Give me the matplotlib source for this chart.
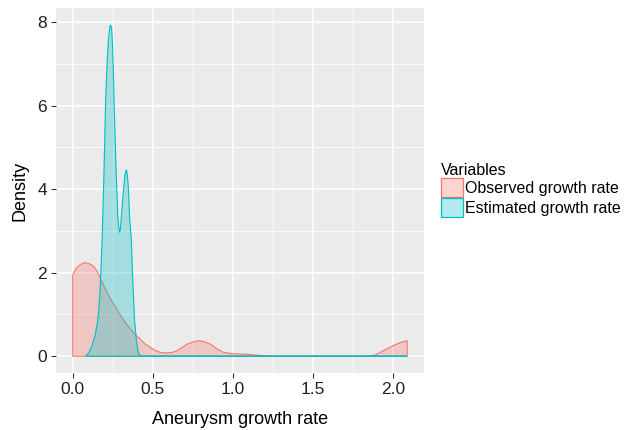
import matplotlib
matplotlib.use("Agg")
import matplotlib.pyplot as plt
from matplotlib.patches import Patch
from matplotlib.ticker import MultipleLocator

plt.rcParams['font.family'] = ['Liberation Sans', 'DejaVu Sans']

# density curves
obs_x = [0.0, 0.02, 0.05, 0.075, 0.10, 0.13, 0.155, 0.175, 0.205, 0.237, 0.27, 0.30, 0.33,
         0.36, 0.39, 0.42, 0.45, 0.486, 0.52, 0.548, 0.59, 0.62, 0.65, 0.68, 0.715, 0.75,
         0.787, 0.82, 0.86, 0.90, 0.943, 1.005, 1.11, 1.17, 1.23, 1.5, 1.857, 1.89, 1.92,
         1.96, 2.0, 2.05, 2.09]
obs_y = [1.94, 2.10, 2.20, 2.24, 2.22, 2.16, 2.02, 1.84, 1.60, 1.37, 1.16, 0.97, 0.80,
         0.65, 0.52, 0.41, 0.30, 0.21, 0.13, 0.09, 0.08, 0.09, 0.13, 0.20, 0.29, 0.34,
         0.37, 0.35, 0.29, 0.18, 0.09, 0.06, 0.04, 0.02, 0.0, 0.0, 0.0, 0.03, 0.09,
         0.17, 0.25, 0.33, 0.37]

est_x = [0.08, 0.10, 0.12, 0.14, 0.154, 0.163, 0.17, 0.178, 0.185, 0.195, 0.206, 0.216,
         0.224, 0.231, 0.237, 0.243, 0.248, 0.253, 0.258, 0.264, 0.274, 0.282, 0.288,
         0.293, 0.298, 0.303, 0.316, 0.326, 0.331, 0.336, 0.341, 0.347, 0.355, 0.366,
         0.376, 0.386, 0.399, 0.409, 0.424, 1.0, 2.09]
est_y = [0.0, 0.08, 0.25, 0.50, 0.80, 1.10, 1.52, 2.20, 2.96, 4.32, 6.16, 7.11,
         7.60, 7.87, 7.93, 7.85, 7.50, 6.95, 6.20, 5.36, 4.16, 3.36, 3.08,
         2.96, 3.05, 3.28, 3.92, 4.32, 4.42, 4.46, 4.35, 4.08, 3.36, 2.80,
         1.76, 0.89, 0.33, 0.10, 0.0, 0.0, 0.0]

labels = ['Observed growth rate', 'Estimated growth rate']
colors = ['#F8766D', '#00BFC4']

fig = plt.figure(figsize=(6.24, 4.30), dpi=100)
ax = fig.add_axes([0.0897, 0.133, 0.5897, 0.848])
ax.set_facecolor('#EBEBEB')

for xs, ys, c in [(obs_x, obs_y, colors[0]), (est_x, est_y, colors[1])]:
    px = [xs[0]] + xs + [xs[-1]]
    py = [0] + ys + [0]
    ax.fill(px, py, facecolor=matplotlib.colors.to_rgba(c, 0.3), edgecolor=c, lw=0.8)

ax.set_xlim(-0.1045, 2.1945)
ax.set_ylim(-0.397, 8.33)
ax.xaxis.set_major_locator(MultipleLocator(0.5))
ax.xaxis.set_minor_locator(MultipleLocator(0.25))
ax.yaxis.set_major_locator(MultipleLocator(2))
ax.yaxis.set_minor_locator(MultipleLocator(1))
ax.set_xticks([0, 0.5, 1.0, 1.5, 2.0])
ax.set_xticklabels(['0.0', '0.5', '1.0', '1.5', '2.0'])
ax.grid(which='major', color='white', lw=1.1)
ax.grid(which='minor', color='white', lw=0.55)
ax.set_axisbelow(True)
for s in ax.spines.values():
    s.set_visible(False)
ax.tick_params(which='major', length=3.5, width=0.8, color='#333333',
               labelsize=12.5, labelcolor='#222222', pad=3)
ax.tick_params(which='minor', length=0)
ax.set_xlabel('Aneurysm growth rate', fontsize=13, labelpad=10)
ax.set_ylabel('Density', fontsize=13, labelpad=6)

handles = [Patch(facecolor=matplotlib.colors.to_rgba(c, 0.3), edgecolor=c, lw=0.9) for c in colors]
leg = fig.legend(handles, labels, title='Variables', loc='upper left',
                 bbox_to_anchor=(0.707, 0.622), frameon=False, fontsize=11.5,
                 title_fontsize=11.5, handlelength=1.35, handleheight=1.45,
                 handletextpad=0.15, labelspacing=0.05, borderaxespad=0,
                 borderpad=0)
leg._legend_box.align = 'left'

fig.savefig('out.png', dpi=100)
